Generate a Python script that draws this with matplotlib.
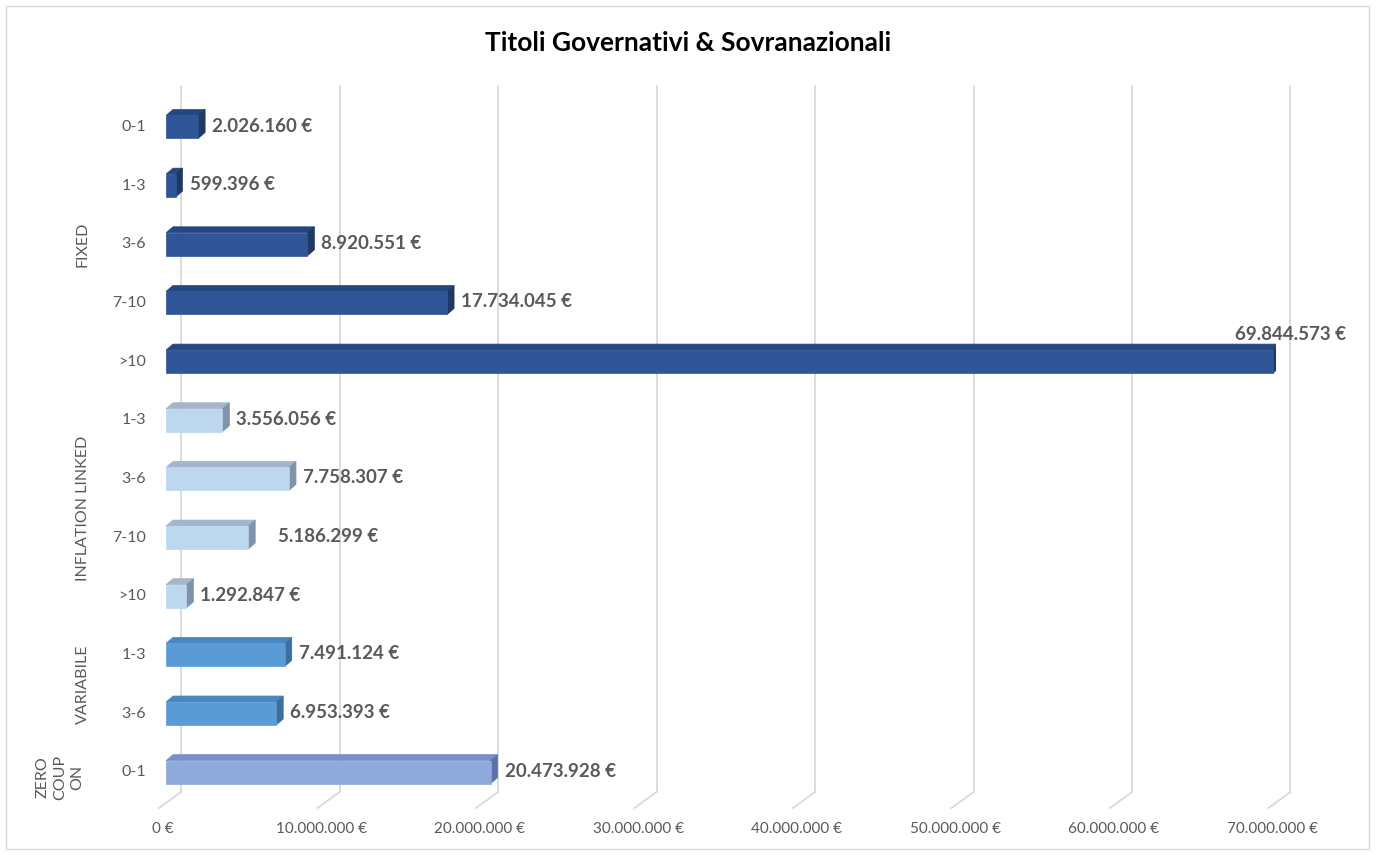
import numpy as np
import matplotlib.pyplot as plt
from matplotlib.patches import Polygon, Rectangle

plt.rcParams['font.family'] = ['Lato', 'DejaVu Sans']

title = "Titoli Governativi & Sovranazionali"
groups = ["FIXED", "INFLATION LINKED", "VARIABILE", "ZERO\nCOUP\nON"]
group_sizes = [5, 4, 2, 1]
maturities = ["0-1", "1-3", "3-6", "7-10", ">10",
              "1-3", "3-6", "7-10", ">10",
              "1-3", "3-6",
              "0-1"]
values = [2026160, 599396, 8920551, 17734045, 69844573,
          3556056, 7758307, 5186299, 1292847,
          7491124, 6953393,
          20473928]
xticks = np.arange(0, 70000001, 10000000)

# front / top / side colours per group
front_cols = ["#2F5597", "#BDD7EE", "#5B9BD5", "#8EA9DB"]
top_cols = ["#24477F", "#A3B6CB", "#4A87C2", "#7890C4"]
side_cols = ["#1F3864", "#7F93AB", "#3C6E9E", "#5B71A8"]


def fmt_eur(v):
    return "{:,}".format(int(v)).replace(",", ".") + " €"


W, H = 1377, 855
fig = plt.figure(figsize=(W / 100, H / 100), dpi=100)

# axes covers the front plane: x 0..70M -> px 166..1275, rows centred 127..772
x0_px, px_per_unit = 166, 15.85e-6
row0_px, row_px = 127, 58.65
top_px, bot_px = 80, 800
ax_w = 70e6 * px_per_unit
ax = fig.add_axes([x0_px / W, 1 - bot_px / H, ax_w / W, (bot_px - top_px) / H])
ax.set_xlim(0, 70e6)
ylo = (bot_px - row0_px) / row_px
yhi = (top_px - row0_px) / row_px
ax.set_ylim(ylo, yhi)
ax.axis('off')


# helper conversions px -> data
def dxp(p):
    return p / px_per_unit


def ypx(p):
    return (p - row0_px) / row_px


grid_col = "#D9D9D9"
text_col = "#595959"

# back gridlines and floor edges
for t in xticks:
    ax.plot([t + dxp(15), t + dxp(15)], [ypx(792), ypx(86)],
            color=grid_col, lw=1.3, clip_on=False, zorder=0)
    ax.plot([t - dxp(7), t + dxp(15)], [ypx(808), ypx(792)],
            color=grid_col, lw=1.3, clip_on=False, zorder=0)
    ax.text(t - dxp(3), ypx(829), fmt_eur(t), ha='center', va='center',
            fontsize=11, color=text_col, clip_on=False)

# bars as front rectangle + top and side faces
bar_h = 23 / row_px
ddx, ddy = dxp(7), -6 / row_px
gidx = np.repeat(np.arange(len(groups)), group_sizes)
for i, v in enumerate(values):
    g = gidx[i]
    ytop = i - bar_h / 2
    ybot = i + bar_h / 2
    ax.add_patch(Polygon([[0, ytop], [v, ytop], [v + ddx, ytop + ddy], [ddx, ytop + ddy]],
                         closed=True, fc=top_cols[g], ec=top_cols[g], lw=0.5, zorder=3))
    ax.add_patch(Polygon([[v, ytop], [v + ddx, ytop + ddy], [v + ddx, ybot + ddy], [v, ybot]],
                         closed=True, fc=side_cols[g], ec=side_cols[g], lw=0.5, zorder=3))
    ax.add_patch(Rectangle((0, ytop), v, bar_h, fc=front_cols[g], ec=front_cols[g],
                           lw=0.5, zorder=4))
    # value label
    if i == 4:
        ax.annotate(fmt_eur(v), (v, i), xytext=(17, 27), textcoords='offset pixels',
                    ha='center', va='center', fontsize=13.5, fontweight='bold',
                    color=text_col, annotation_clip=False)
    else:
        off = 30 if i == 7 else 14
        ax.annotate(fmt_eur(v), (v, i), xytext=(off, 1), textcoords='offset pixels',
                    ha='left', va='center', fontsize=13.5, fontweight='bold',
                    color=text_col, annotation_clip=False)
    # maturity label
    ax.text(dxp(-20), i, maturities[i], ha='right', va='center',
            fontsize=11.5, color=text_col, clip_on=False)

# group labels, rotated
start = 0
for g, name in enumerate(groups):
    n = group_sizes[g]
    centre = start + (n - 1) / 2
    if g == 3:
        ax.text(dxp(-106), ypx(777), name, ha='center', va='center', rotation=90,
                fontsize=11.5, color=text_col, linespacing=1.3, clip_on=False)
    else:
        ax.text(dxp(-83), centre, name, ha='center', va='center', rotation=90,
                fontsize=11.5, color=text_col, clip_on=False)
    start += n

fig.text(688 / W, 1 - 43 / H, title, ha='center', va='center',
         fontsize=19, fontweight='bold', color='black')

# outer chart border
fig.add_artist(Rectangle((6 / W, 6 / H), 1363 / W, 843 / H, transform=fig.transFigure,
                         fill=False, ec="#D9D9D9", lw=1))

fig.savefig("out.png", dpi=100)
